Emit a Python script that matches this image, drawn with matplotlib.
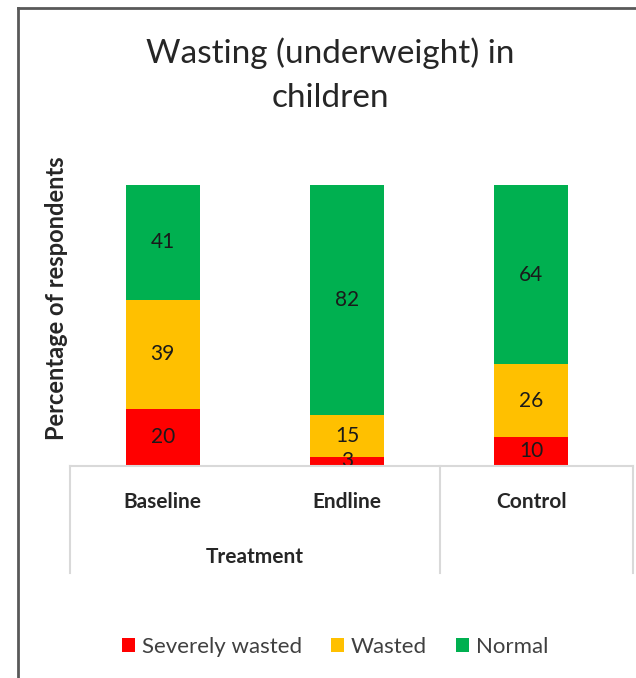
import matplotlib
matplotlib.use("Agg")
import matplotlib.pyplot as plt
from matplotlib.lines import Line2D
from matplotlib.patches import Patch

categories = ["Baseline", "Endline", "Control"]
group_label = "Treatment"
series_names = ["Severely wasted", "Wasted", "Normal"]
severely_wasted = [20, 3, 10]
wasted = [39, 15, 26]
normal = [41, 82, 64]
colors = ["#FF0000", "#FFC000", "#00B050"]

plt.rcParams['font.family'] = ['Lato', 'DejaVu Sans']

W, H = 636, 678
fig = plt.figure(figsize=(W / 100, H / 100), dpi=100)

def fx(px):
    return px / W

def fy(py):
    return 1 - py / H

ax_l, ax_r = 70.5, 623.5
ax = fig.add_axes([fx(ax_l), fy(465), fx(ax_r) - fx(ax_l), fy(185) - fy(465)])
x = list(range(len(categories)))
series = [severely_wasted, wasted, normal]
bottom = [0] * len(categories)
for vals, col, name in zip(series, colors, series_names):
    ax.bar(x, vals, width=0.4, bottom=bottom, color=col, label=name)
    for xi, v, b in zip(x, vals, bottom):
        ax.text(xi, b + v / 2, str(v), ha='center', va='center',
                fontsize=15, color='#1a1a1a')
    bottom = [b + v for b, v in zip(bottom, vals)]

ax.set_xlim(-0.5, len(categories) - 0.5)
ax.set_ylim(0, 100)
ax.set_xticks([])
ax.set_yticks([])
for s in ax.spines.values():
    s.set_visible(False)

# category table lines
line_col = "#D9D9D9"
fig.add_artist(Line2D([fx(70), fx(633)], [fy(466), fy(466)], color=line_col, lw=1.5))
for px in [70, 440, 633]:
    fig.add_artist(Line2D([fx(px), fx(px)], [fy(466), fy(573)], color=line_col, lw=1.5))

# category labels
for i, c in enumerate(categories):
    xc = fx(ax_l) + (fx(ax_r) - fx(ax_l)) * (i + 0.5) / len(categories)
    fig.text(xc, fy(502), c, ha='center', va='center', fontsize=15,
             fontweight='bold', color='#262626')
fig.text(fx(255), fy(557), group_label, ha='center', va='center', fontsize=15,
         fontweight='bold', color='#262626')

# y label
fig.text(fx(57), fy(298), "Percentage of respondents", rotation=90,
         ha='center', va='center', fontsize=17, fontweight='bold', color='#262626')

# title
fig.text(fx(330), fy(75), "Wasting (underweight) in\nchildren", ha='center',
         va='center', fontsize=24, color='#262626', linespacing=1.6)

# legend
handles = [Patch(facecolor=c, label=n) for c, n in zip(colors, series_names)]
fig.legend(handles=handles, loc='center', bbox_to_anchor=(fx(335), fy(647)),
           ncol=3, frameon=False, fontsize=16, handlelength=0.6,
           handleheight=0.6, handletextpad=0.3, columnspacing=1.3,
           labelcolor='#404040')

# frame
fig.add_artist(Line2D([fx(18), fx(18)], [fy(8), 0], color='#595959', lw=2))
fig.add_artist(Line2D([fx(18), 1], [fy(8), fy(8)], color='#595959', lw=2))

fig.savefig("out.png", dpi=100)
